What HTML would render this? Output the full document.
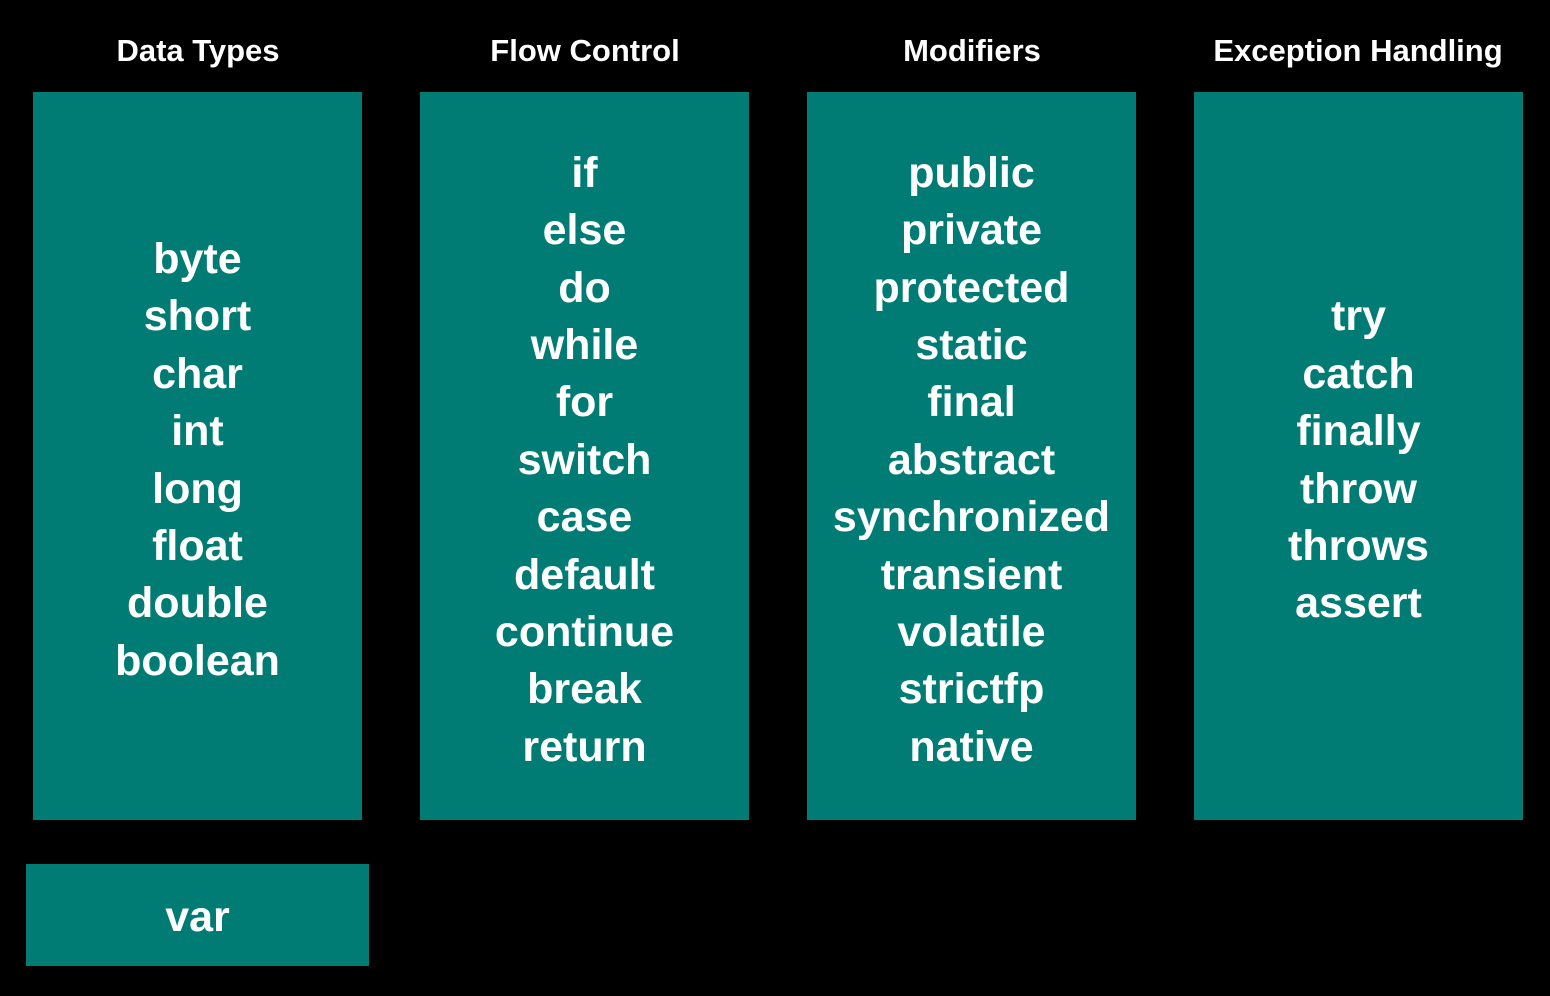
<!DOCTYPE html>
<html><head><style>
html,body{margin:0;padding:0;background:#000;width:1550px;height:996px;overflow:hidden;font-family:"Liberation Sans",Arial,sans-serif;font-weight:bold;color:#fff}
.h{position:absolute;top:31px;width:400px;text-align:center;font-size:31px;line-height:40px}
.b{position:absolute;top:92px;width:329px;height:728px;background:#017c74;display:flex;flex-direction:column;justify-content:center;align-items:center;font-size:43px;line-height:57.4px;padding-top:9px;box-sizing:border-box}
.v{position:absolute;left:26px;top:864px;width:343px;height:102px;background:#017c74;display:flex;align-items:center;justify-content:center;font-size:43px;padding-top:5px;box-sizing:border-box}
</style></head><body>
<div class="h" style="left:-2px">Data Types</div>
<div class="h" style="left:385px">Flow Control</div>
<div class="h" style="left:772px">Modifiers</div>
<div class="h" style="left:1158px">Exception Handling</div>
<div class="b" style="left:33px"><div>byte</div><div>short</div><div>char</div><div>int</div><div>long</div><div>float</div><div>double</div><div>boolean</div></div>
<div class="b" style="left:420px"><div>if</div><div>else</div><div>do</div><div>while</div><div>for</div><div>switch</div><div>case</div><div>default</div><div>continue</div><div>break</div><div>return</div></div>
<div class="b" style="left:807px"><div>public</div><div>private</div><div>protected</div><div>static</div><div>final</div><div>abstract</div><div>synchronized</div><div>transient</div><div>volatile</div><div>strictfp</div><div>native</div></div>
<div class="b" style="left:1194px"><div>try</div><div>catch</div><div>finally</div><div>throw</div><div>throws</div><div>assert</div></div>
<div class="v">var</div>
</body></html>
